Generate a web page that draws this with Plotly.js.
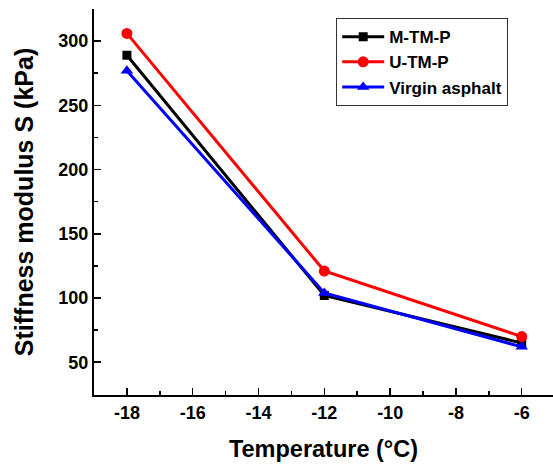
<!DOCTYPE html>
<html>
<head>
<meta charset="utf-8">
<script src="https://cdn.plot.ly/plotly-3.0.1.min.js"></script>
<style>html,body{margin:0;padding:0;background:#fff;}#chart{width:553px;height:464px;}</style>
</head>
<body>
<div id="chart"></div>
<script>
const temperature = [-18, -12, -6];
const seriesNames = ["M-TM-P", "U-TM-P", "Virgin asphalt"];
const mtmp = [289, 102, 65];
const utmp = [306, 121, 70];
const virgin = [277, 104, 62];
const xTicks = [-18, -16, -14, -12, -10, -8, -6];
const yTicks = [50, 100, 150, 200, 250, 300];

const FONT = "Liberation Sans, Arial, sans-serif";
function mk(name, y, color, symbol, size) {
  return {
    x: temperature, y: y, name: name, type: "scatter", mode: "lines+markers",
    line: {color: color, width: 3},
    marker: {color: color, symbol: symbol, size: size}
  };
}
const data = [
  mk(seriesNames[0], mtmp, "#000000", "square", 9),
  mk(seriesNames[1], utmp, "#ff0000", "circle", 11),
  mk(seriesNames[2], virgin, "#0000ff", "triangle-up", 11)
];
const layout = {
  width: 553, height: 464,
  margin: {l: 94, r: 0, t: 9, b: 69},
  paper_bgcolor: "#fff", plot_bgcolor: "#fff",
  showlegend: true,
  font: {family: FONT, color: "#000"},
  xaxis: {
    range: [-19, -5.05], tickvals: xTicks, ticktext: xTicks.map(String),
    showgrid: false, zeroline: false, showline: true, linecolor: "#000", linewidth: 2,
    ticks: "inside", ticklen: 7, tickwidth: 1.5, tickcolor: "#000",
    minor: {dtick: 1, ticks: "inside", ticklen: 4, tickwidth: 1.5, tickcolor: "#000"},
    tickfont: {size: 18, family: FONT, weight: "bold"},
    title: {text: "<b>Temperature (°C)</b>", font: {size: 23.5, family: FONT}, standoff: 19}
  },
  yaxis: {
    range: [24.5, 325], tickvals: yTicks, ticktext: yTicks.map(String),
    showgrid: false, zeroline: false, showline: true, linecolor: "#000", linewidth: 2,
    ticks: "inside", ticklen: 7, tickwidth: 1.5, tickcolor: "#000",
    minor: {dtick: 25, ticks: "inside", ticklen: 4, tickwidth: 1.5, tickcolor: "#000"},
    tickfont: {size: 18, family: FONT, weight: "bold"},
    title: {text: "<b>Stiffness modulus S (kPa)</b>", font: {size: 25, family: FONT}, standoff: 18}
  },
  legend: {
    bgcolor: "#fff", bordercolor: "#333", borderwidth: 1.2,
    font: {size: 17, family: FONT, weight: "bold"},
    tracegroupgap: 0, itemwidth: 42
  }
};
const pw = 553 - 94, ph = 464 - 9 - 69;
layout.legend.x = (336 - 94) / pw;
layout.legend.y = 1 - (18 - 9) / ph;
layout.legend.xanchor = "left"; layout.legend.yanchor = "top";
Plotly.newPlot("chart", data, layout, {displayModeBar: false, staticPlot: true});
</script>
</body>
</html>
